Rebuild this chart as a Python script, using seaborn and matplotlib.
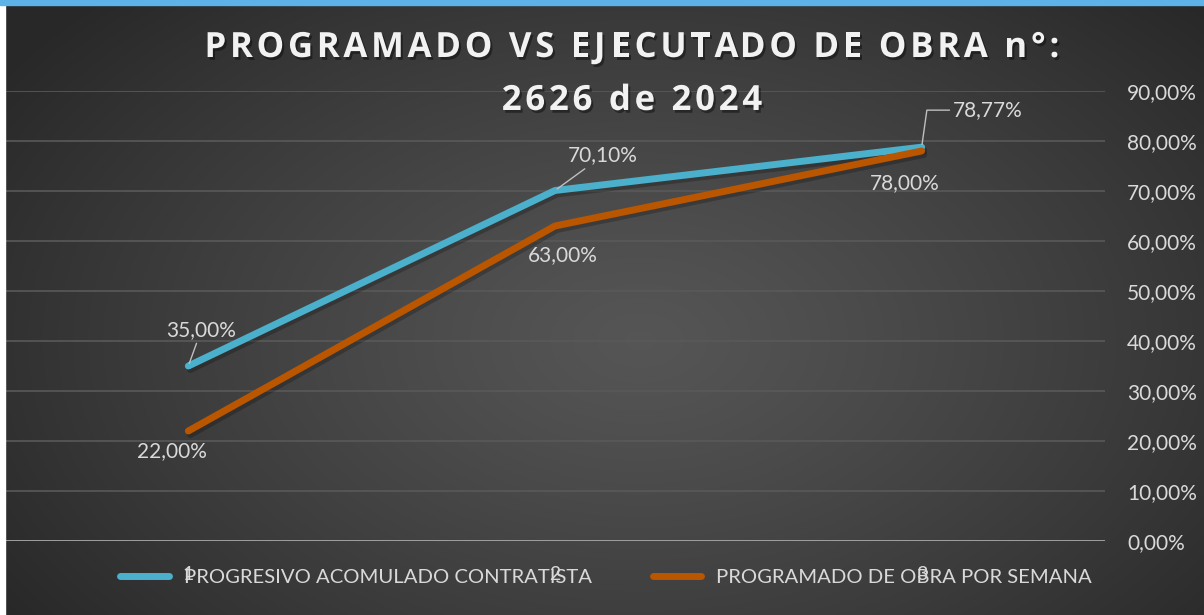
import numpy as np
import pandas as pd
import matplotlib
matplotlib.use("Agg")
import matplotlib.pyplot as plt
import seaborn as sns
from matplotlib import patheffects as pe
from matplotlib.lines import Line2D
from matplotlib.patches import Rectangle

# ---------------- data ----------------
categories = [1, 2, 3]
category_labels = ["1", "2", "3"]
series_names = ["PROGRESIVO ACOMULADO CONTRATISTA", "PROGRAMADO DE OBRA POR SEMANA"]
progresivo = [0.35, 0.701, 0.7877]
programado = [0.22, 0.63, 0.78]
y_ticks = [0.0, 0.1, 0.2, 0.3, 0.4, 0.5, 0.6, 0.7, 0.8, 0.9]
title_line1 = "PROGRAMADO VS EJECUTADO DE OBRA n°:"
title_line2 = "2626 de 2024"

BLUE = "#4BB0CB"
ORANGE = "#BA5500"
TXT = "#D9D9D9"

def pct(v):
    return f"{v*100:.2f}".replace(".", ",") + "%"

df = pd.DataFrame({
    "cat": categories * 2,
    "val": progresivo + programado,
    "serie": [series_names[0]] * 3 + [series_names[1]] * 3,
})

sns.set_theme(style="dark")
plt.rcParams["font.family"] = ["Lato", "DejaVu Sans"]

W, H = 1204, 615
fig = plt.figure(figsize=(W / 100, H / 100), dpi=100)

# background radial gradient
bg = fig.add_axes([0, 0, 1, 1], zorder=0)
yy, xx = np.mgrid[0:H, 0:W]
r = np.sqrt(((xx - 640) / 760.0) ** 2 + ((yy - 340) / 480.0) ** 2)
r = np.clip(r, 0, 1)
c = 0.335 - (0.335 - 0.16) * r ** 1.2
bg.imshow(np.dstack([c, c, c]), aspect="auto", extent=(0, 1, 0, 1), origin="upper")
bg.set_xlim(0, 1)
bg.set_ylim(0, 1)
bg.axis("off")
fig.patches.append(Rectangle((0, 0), 5 / W, 1, transform=fig.transFigure, color="white", zorder=5))
fig.patches.append(Rectangle((0, 1 - 5 / H), 1, 5 / H, transform=fig.transFigure, color="#5DB2E8", zorder=6))

ax = fig.add_axes([5 / W, 74 / H, 1100 / W, 450 / H], zorder=2)
ax.patch.set_alpha(0)

sns.lineplot(data=df, x="cat", y="val", hue="serie", hue_order=series_names,
             palette=[BLUE, ORANGE], linewidth=5.0, ax=ax, legend=False,
             solid_capstyle="round", solid_joinstyle="round", zorder=4)
for ln in ax.lines:
    ln.set_path_effects([pe.SimpleLineShadow(offset=(1.5, -2.5), shadow_color="black", alpha=0.22),
                         pe.Normal()])

ax.set_xlim(0.5, 3.5)
ax.set_ylim(0, 0.9)
ax.set_yticks(y_ticks)
ax.set_yticklabels([pct(v) for v in y_ticks])
ax.yaxis.tick_right()
ax.tick_params(axis="y", length=0, pad=16, labelsize=15, labelcolor=TXT)
ax.set_xticks(categories)
ax.set_xticklabels(category_labels)
ax.tick_params(axis="x", length=0, pad=18, labelsize=14, labelcolor=TXT)
ax.set_xlabel("")
ax.set_ylabel("")
for s in ax.spines.values():
    s.set_visible(False)
ax.grid(False)
ax.grid(axis="y", color="#595959", lw=1.2)
ax.axhline(0, color="#A6A6A6", lw=2, zorder=3)

# data labels
lead = dict(arrowstyle="-", color="#BFBFBF", lw=1.0, shrinkA=0, shrinkB=2)
blue_off = [(13, 36), (48, 35), (66, 37)]
orange_off = [(-16, -20), (8, -29), (-17, -32)]
for i, (x, v) in enumerate(zip(categories, progresivo)):
    ap = dict(lead)
    if i == 2:
        ap["connectionstyle"] = "angle,angleA=0,angleB=82,rad=0"
    ax.annotate(pct(v), (x, v), xytext=blue_off[i], textcoords="offset pixels",
                ha="center", va="center", fontsize=15, color=TXT, arrowprops=ap, zorder=6)
for i, (x, v) in enumerate(zip(categories, programado)):
    ax.annotate(pct(v), (x, v), xytext=orange_off[i], textcoords="offset pixels",
                ha="center", va="center", fontsize=15, color=TXT, zorder=6)

# legend
handles = [Line2D([], [], color=BLUE, lw=5.0, solid_capstyle="round"),
           Line2D([], [], color=ORANGE, lw=5.0, solid_capstyle="round")]
leg = fig.legend(handles, series_names, loc="center", bbox_to_anchor=(606 / W, 1 - 577 / H),
                 ncol=2, frameon=False, fontsize=14.6, handlelength=2.4, handletextpad=0.75,
                 columnspacing=3.0, labelcolor=TXT)

# title with letter spacing
renderer = fig.canvas.get_renderer()
tkw = dict(fontsize=25, fontweight="bold", fontfamily="Open Sans")

def tw(s):
    t = fig.text(0, 0, s + "|", **tkw)
    w = t.get_window_extent(renderer).width
    t.remove()
    t2 = fig.text(0, 0, "|", **tkw)
    w2 = t2.get_window_extent(renderer).width
    t2.remove()
    return w - w2

shadow = [pe.withSimplePatchShadow(offset=(1.5, -2), shadow_rgbFace="black", alpha=0.4)]
nat1 = tw(title_line1)
spacing = max(0.0, (855 - nat1) / (len(title_line1) - 1))

def spaced(txt, xc, baseline):
    total = tw(txt) + spacing * (len(txt) - 1)
    x0 = xc - total / 2
    for i, ch in enumerate(txt):
        if ch == " ":
            continue
        x = x0 + tw(txt[:i]) + spacing * i
        fig.text(x / W, 1 - baseline / H, ch, ha="left", va="baseline", color="#F2F2F2",
                 path_effects=shadow, zorder=10, **tkw)

spaced(title_line1, 632, 57)
spaced(title_line2, 632, 110)

fig.savefig("out.png", dpi=100)
